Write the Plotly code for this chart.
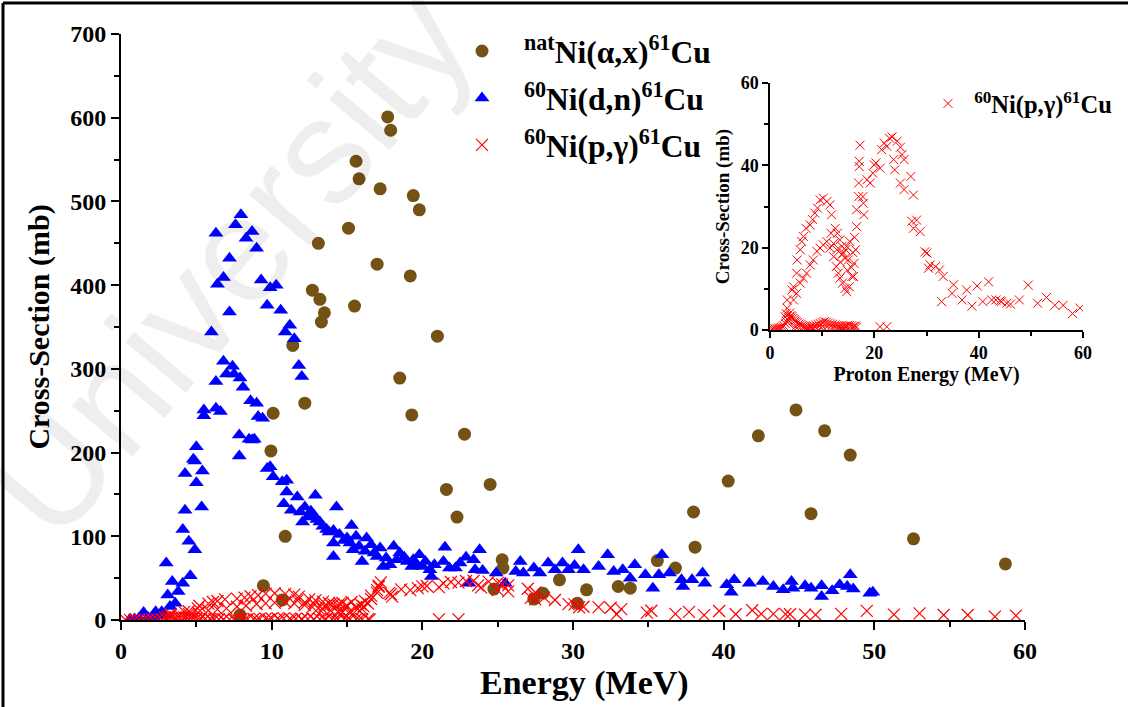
import plotly.graph_objects as go

# natNi(alpha,x)61Cu
alpha_E = [7.9, 9.45, 9.95, 10.1, 10.7, 10.9, 11.4, 12.2, 12.7, 13.1, 13.2, 13.3, 13.5, 15.1, 15.5, 15.6, 15.8,
           17.0, 17.2, 17.7, 17.9, 18.5, 19.2, 19.3, 19.4, 19.8, 21.0, 21.6, 22.3, 22.8, 24.5, 24.75, 25.3, 25.35,
           27.4, 28.0, 29.1, 30.3, 30.9, 33.0, 33.8, 35.6, 36.8, 38.0, 38.1, 40.3, 42.3, 44.8, 45.8, 46.7, 48.4,
           52.6, 58.7]
alpha_S = [6, 41, 202, 247, 24, 100, 328, 259, 394, 450, 383, 356, 367, 468, 375, 548, 527,
           425, 515, 601, 585, 289, 411, 245, 507, 490, 339, 156, 123, 222, 162, 37, 72, 62,
           25, 32, 48, 20, 36, 40, 38, 71, 62, 129, 87, 166, 220, 251, 127, 226, 197,
           97, 67]

# 60Ni(d,n)61Cu
dn_E = [0.6, 0.9, 1.2, 1.5, 1.8, 2.1, 2.3, 2.5, 2.7, 2.9, 3.1, 3.25, 3.0, 3.4, 3.6, 3.8, 4.1, 4.1, 4.25, 4.25,
        4.5, 4.6, 4.8, 4.9, 4.9, 5.0, 5.0, 5.35, 5.4, 5.5, 5.5, 6.0, 6.3, 6.3, 6.3, 6.4, 6.6, 6.8, 6.8, 7.0,
        7.2, 7.2, 7.4, 7.5, 7.6, 7.85, 7.85, 7.9, 7.96, 8.1, 8.3, 8.5, 8.6, 8.7, 8.7, 8.85, 9.0, 9.0, 9.1, 9.3,
        9.4, 9.7, 9.7, 9.9, 9.9, 10.1, 10.3, 10.6, 10.7, 10.8, 10.9, 11.0, 11.0, 11.2, 11.3, 11.5, 11.7, 11.8,
        11.9, 12.0, 12.05, 12.2, 12.4, 12.6, 12.8, 12.9, 13.0, 13.2, 13.4, 13.65, 13.8, 14.1, 14.1, 14.1, 14.3,
        14.5, 14.8, 15.0, 15.2, 15.3, 15.4, 15.6, 15.8, 16.0, 16.2, 16.3, 16.6, 16.8, 17.0, 17.2, 17.4, 17.6,
        17.85, 18.1, 18.3, 18.5, 18.8, 19.0, 19.3, 19.4, 19.5, 19.6, 19.8, 20.0, 20.2, 20.5, 20.6, 20.8, 21.4,
        21.5, 21.8, 22.2, 22.5, 22.9, 23.1, 23.4, 23.5, 23.8, 24.0, 24.9, 25.5, 26.2, 26.5, 26.7, 27.4, 27.8,
        28.35, 28.8, 29.3, 29.7, 30.1, 30.35, 30.7, 31.7, 32.3, 32.7, 33.3, 33.8, 34.1, 34.8, 35.3, 35.7, 35.9,
        36.4, 37.2, 37.3, 37.9, 38.6, 38.75, 40.2, 40.5, 40.7, 41.7, 42.6, 43.3, 43.95, 44.5, 44.6, 45.4, 45.8,
        46.5, 46.5, 47.2, 47.7, 48.2, 48.4, 48.6, 49.7, 49.9]
dn_S = [1, 1, 2, 9, 3, 4, 10, 5, 10, 6, 30, 16, 68, 46, 20, 34, 44, 108, 131, 175,
        94, 53, 192, 84, 190, 164, 207, 135, 178, 244, 251, 344, 253, 285, 462, 401, 249, 309, 409, 294,
        368, 432, 303, 294, 472, 196, 221, 289, 484, 278, 456, 216, 262, 215, 464, 216, 259, 444, 243, 406,
        241, 181, 376, 183, 397, 171, 400, 370, 165, 139, 344, 153, 167, 352, 131, 336, 147, 304,
        129, 291, 117, 135, 123, 130, 125, 149, 120, 117, 112, 108, 105, 76, 92, 107, 135,
        102, 95, 98, 92, 113, 84, 100, 88, 70, 82, 98, 90, 80, 76, 86, 64, 74,
        66, 88, 72, 80, 75, 70, 64, 72, 68, 66, 78, 64, 70, 60, 52, 66, 70,
        87, 62, 62, 68, 75, 44, 72, 60, 84, 59, 56, 44, 58, 70, 56, 62, 56,
        68, 60, 68, 60, 65, 84, 60, 64, 78, 58, 60, 50, 66, 54, 38, 54, 78,
        56, 48, 40, 48, 56, 44, 42, 33, 48, 44, 46, 40, 36, 46, 38, 41, 38,
        28, 41, 35, 42, 40, 54, 37, 32, 33]

# 60Ni(p,gamma)61Cu
pg_E = [0.3, 0.6, 0.9, 1.2, 1.5, 1.8, 2.1, 2.4, 2.7, 3.0, 3.2, 3.4, 3.6, 3.8, 4.0, 4.2, 4.4, 4.6, 4.8, 5.0,
        5.3, 5.6, 5.9, 6.2, 6.5, 6.8, 7.2, 7.6, 8.0, 8.4, 8.8, 9.2, 9.6, 10.0, 10.4, 10.8, 11.2, 11.6, 12.0,
        12.4, 12.8, 13.2, 13.6, 14.0, 14.4, 14.8, 15.2, 15.6, 16.0, 16.4,
        4.5, 5.2, 6.0, 6.8, 7.5, 8.2, 9.0, 9.8, 10.5, 11.3, 12.0, 12.8, 13.5, 14.2, 15.0, 15.8, 16.5,
        2.9, 3.1, 3.3,
        3.3, 4.2, 4.5, 5.1, 5.2, 5.8, 6.1, 6.4, 6.9, 7.7, 8.2, 8.6, 9.1, 9.6, 10.2, 10.9, 11.5, 11.8, 12.5,
        12.9, 13.4, 13.8, 14.1, 14.4, 14.7,
        3.8, 4.5, 5.1, 5.8, 6.4, 7.0, 7.7, 8.3, 9.0, 9.6, 10.2, 10.9, 11.5, 12.2, 12.7, 13.1, 13.4, 13.9,
        14.4, 14.7, 15.2, 15.7, 16.1, 16.4, 16.6, 16.6, 17.0, 17.0, 17.1, 17.1, 17.25,
        13.9, 14.5, 15.0, 15.3, 15.6, 15.9, 16.2, 16.0, 14.8, 13.5, 12.2, 11.7, 12.8,
        17.8, 17.9, 18.0, 18.6, 19.2, 19.7, 20.0, 20.3, 21.1, 21.4, 21.9, 22.4, 22.9, 23.4, 23.7, 23.9, 24.4,
        25.0, 25.3, 25.7, 25.0, 25.7, 27.0, 27.5, 27.2, 27.5, 28.1, 28.8, 29.7, 30.1, 30.4, 30.7, 31.7, 32.5,
        33.2, 32.9, 35.2, 34.9, 36.8, 37.7, 38.7, 39.7, 40.8, 41.9, 42.5, 43.3, 44.1, 44.4, 45.4, 46.1, 47.8,
        49.5, 51.3, 53.0, 54.6, 56.2, 58.0, 59.4, 21.1, 22.4]
pg_S = [0.2, 0.2, 0.3, 0.3, 0.4, 0.5, 0.6, 0.8, 1.0, 1.5, 2.0, 2.5, 3.0, 3.3, 3.5, 3.2, 2.8, 2.5, 2.2, 2.0,
        1.8, 1.5, 1.3, 1.1, 0.9, 0.8, 0.7, 0.8, 0.9, 1.0, 1.2, 1.4, 1.6, 1.8, 2.0, 1.9, 1.7, 1.5, 1.4,
        1.2, 1.1, 1.0, 0.9, 0.8, 0.9, 1.0, 1.1, 1.0, 0.9, 1.0,
        0.4, 0.5, 0.3, 0.4, 0.5, 0.3, 0.4, 0.5, 0.3, 0.4, 0.5, 0.3, 0.4, 0.5, 0.3, 0.5, 0.6,
        3.2, 4.0, 5.3,
        7.3, 9.7, 10.5, 13.8, 17.0, 19.5, 21.5, 22.7, 24.7, 25.5, 26.8, 28.4, 29.6, 31.6, 32.0, 31.2, 30.4,
        28.0, 24.7, 23.5, 21.9, 20.3, 18.7, 17.4, 20.3,
        4.1, 7.3, 8.9, 11.4, 12.6, 13.8, 15.8, 17.0, 19.1, 19.9, 20.7, 21.5, 19.9, 17.8, 15.4, 13.8, 12.6,
        11.4, 10.1, 9.3, 10.5, 13.0, 16.2, 19.5, 25.1, 29.2, 32.4, 35.7, 39.7, 41.0, 44.9,
        18.5, 19.5, 17.0, 21.5, 15.2, 18.8, 22.5, 13.0, 14.5, 16.5, 21.0, 23.5, 19.5,
        32.4, 30.8, 28.0, 36.5, 35.7, 38.1, 40.1, 40.6, 39.3, 43.8, 45.4, 44.6, 46.6, 46.9, 41.4, 38.9, 45.9,
        44.4, 42.6, 41.4, 35.7, 34.1, 37.3, 32.8, 26.4, 24.7, 26.7, 23.9, 19.0, 18.7, 15.0, 15.8, 15.4, 14.6,
        13.0, 6.9, 11.0, 8.9, 7.3, 9.7, 5.8, 10.7, 6.9, 11.7, 7.3, 7.3, 7.1, 6.9, 6.5, 6.3, 7.3,
        10.9, 6.5, 7.9, 6.0, 6.0, 4.0, 5.3, 0.8, 0.8]

GAP = "\u2002\u2009"
leg_alpha = GAP + "<sup>nat</sup>Ni(α,x)<sup>61</sup>Cu"
leg_dn = GAP + "<sup>60</sup>Ni(d,n)<sup>61</sup>Cu"
leg_pg = GAP + "<sup>60</sup>Ni(p,γ)<sup>61</sup>Cu"
leg_pg_inset = "\u00a0<sup>60</sup>Ni(p,γ)<sup>61</sup>Cu"

SERIF = "Liberation Serif"
W, H = 1128, 707

fig = go.Figure()
fig.add_trace(go.Scatter(x=alpha_E, y=alpha_S, mode="markers", name=leg_alpha, legendgroup="a",
                         marker=dict(symbol="circle", size=13, color="#735214", line=dict(width=0))))
fig.add_trace(go.Scatter(x=dn_E, y=dn_S, mode="markers", name=leg_dn, legendgroup="b",
                         marker=dict(symbol="triangle-up", size=13, color="#0000ff", line=dict(width=0))))
fig.add_trace(go.Scatter(x=pg_E, y=pg_S, mode="markers", name=leg_pg, legendgroup="c",
                         marker=dict(symbol="x-thin", size=12, color="#ff0000",
                                     line=dict(width=1.2, color="#ff0000"))))
fig.add_trace(go.Scatter(x=pg_E, y=pg_S, mode="markers", name=leg_pg_inset, xaxis="x2", yaxis="y2",
                         legend="legend2",
                         marker=dict(symbol="x-thin", size=9, color="#ff0000",
                                     line=dict(width=1, color="#ff0000"))))

def px_x(p):
    return p / W

def px_y(p):
    return 1 - p / H

axis_common = dict(showline=True, linecolor="black", showgrid=False, zeroline=False,
                   ticks="outside", tickcolor="black", automargin=False)

fig.update_layout(
    width=W, height=H,
    margin=dict(l=0, r=0, t=0, b=0, pad=0, autoexpand=False),
    paper_bgcolor="white", plot_bgcolor="rgba(0,0,0,0)",
    showlegend=True,
    xaxis=dict(**axis_common, domain=[px_x(121), px_x(1025)], range=[0, 60], dtick=10,
               linewidth=2, ticklen=8, tickwidth=2,
               minor=dict(dtick=5, ticklen=5, tickwidth=2, ticks="outside", tickcolor="black"),
               tickfont=dict(family=SERIF, size=24, color="black", weight="bold"),
               anchor="y"),
    yaxis=dict(**axis_common, domain=[px_y(620), px_y(34)], range=[0, 700], dtick=100,
               linewidth=2, ticklen=8, tickwidth=2,
               minor=dict(dtick=50, ticklen=5, tickwidth=2, ticks="outside", tickcolor="black"),
               tickfont=dict(family=SERIF, size=24, color="black", weight="bold"),
               title=dict(text="Cross-Section (mb)", font=dict(family=SERIF, size=30, color="black", weight="bold"),
                          standoff=12),
               anchor="x"),
    xaxis2=dict(**axis_common, domain=[px_x(770), px_x(1083)], range=[0, 60], dtick=20,
                linewidth=1.5, ticklen=6, tickwidth=1.5,
                minor=dict(dtick=10, ticklen=4, tickwidth=1.5, ticks="outside", tickcolor="black"),
                tickfont=dict(family=SERIF, size=18, color="black", weight="bold"),
                title=dict(text="Proton Energy (MeV)", font=dict(family=SERIF, size=20, color="black", weight="bold"),
                           standoff=2),
                anchor="y2"),
    yaxis2=dict(**axis_common, domain=[px_y(330), px_y(83)], range=[0, 60], dtick=20,
                linewidth=1.5, ticklen=6, tickwidth=1.5,
                minor=dict(dtick=10, ticklen=4, tickwidth=1.5, ticks="outside", tickcolor="black"),
                tickfont=dict(family=SERIF, size=18, color="black", weight="bold"),
                title=dict(text="Cross-Section (mb)", font=dict(family=SERIF, size=19, color="black", weight="bold"),
                           standoff=6),
                anchor="x2"),
    legend=dict(x=px_x(462), y=px_y(24), xanchor="left", yanchor="top",
                bgcolor="rgba(0,0,0,0)", borderwidth=0,
                font=dict(family=SERIF, size=31.5, color="black", weight="bold"),
                itemsizing="trace", tracegroupgap=3),
    legend2=dict(x=px_x(928), y=px_y(81), xanchor="left", yanchor="top",
                 bgcolor="rgba(0,0,0,0)", borderwidth=0,
                 font=dict(family=SERIF, size=24.5, color="black", weight="bold")),
    annotations=[
        dict(text="University", x=px_x(228), y=px_y(262), xref="paper", yref="paper",
             xanchor="center", yanchor="middle",
             showarrow=False, textangle=-50,
             font=dict(family="Liberation Sans", size=150, color="rgba(0,0,0,0.065)")),
        dict(text="Energy (MeV)", x=px_x(584), y=px_y(683), xref="paper", yref="paper",
             xanchor="center", yanchor="middle", showarrow=False,
             font=dict(family=SERIF, size=34, color="black", weight="bold")),
    ],
    shapes=[
        dict(type="line", xref="paper", yref="paper", x0=px_x(3), x1=1, y0=px_y(3), y1=px_y(3),
             line=dict(color="black", width=3)),
        dict(type="line", xref="paper", yref="paper", x0=px_x(3), x1=px_x(3), y0=0, y1=px_y(3),
             line=dict(color="black", width=3)),
    ],
)

fig.write_html("out.html")
